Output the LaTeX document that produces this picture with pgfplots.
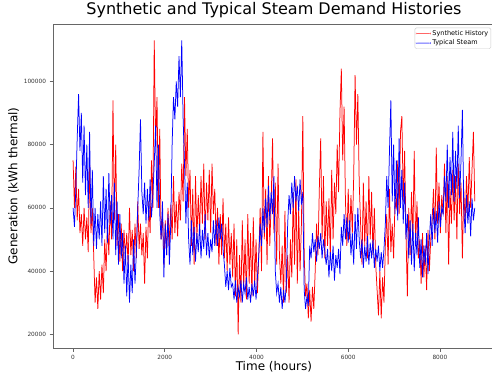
\documentclass[border=0pt]{standalone}
\usepackage{pgfplots}
\pgfplotsset{compat=1.18}
\usepackage{pgfplotstable}
\usepackage{fontspec}
\setmainfont{DejaVu Sans}

% hourly demand sampled every 30 hours, values in thousands of kWh
\pgfplotstableread[row sep=\\]{
v\\
75\\ 60\\ 73\\ 56\\ 66\\ 52\\ 58\\ 48\\ 60\\ 50\\
57\\ 46\\ 74\\ 52\\ 60\\ 45\\ 30\\ 38\\ 28\\ 40\\
31\\ 42\\ 33\\ 50\\ 40\\ 55\\ 45\\ 62\\ 50\\ 94\\
56\\ 80\\ 48\\ 58\\ 43\\ 55\\ 40\\ 53\\ 44\\ 52\\
42\\ 60\\ 45\\ 53\\ 40\\ 55\\ 44\\ 62\\ 47\\ 55\\
45\\ 52\\ 36\\ 54\\ 44\\ 62\\ 52\\ 75\\ 60\\ 113\\
80\\ 95\\ 60\\ 85\\ 50\\ 58\\ 42\\ 56\\ 45\\ 60\\
48\\ 61\\ 50\\ 70\\ 52\\ 62\\ 51\\ 65\\ 56\\ 74\\
62\\ 95\\ 70\\ 85\\ 60\\ 72\\ 48\\ 66\\ 42\\ 70\\
50\\ 64\\ 52\\ 70\\ 55\\ 74\\ 50\\ 68\\ 56\\ 72\\
52\\ 74\\ 58\\ 66\\ 48\\ 60\\ 42\\ 58\\ 45\\ 63\\
44\\ 55\\ 40\\ 57\\ 42\\ 52\\ 38\\ 55\\ 32\\ 50\\
20\\ 45\\ 30\\ 56\\ 34\\ 50\\ 31\\ 58\\ 36\\ 52\\
32\\ 57\\ 35\\ 50\\ 33\\ 45\\ 60\\ 40\\ 84\\ 50\\
66\\ 42\\ 70\\ 48\\ 62\\ 82\\ 52\\ 68\\ 42\\ 74\\
45\\ 36\\ 48\\ 30\\ 59\\ 33\\ 45\\ 30\\ 50\\ 38\\
65\\ 42\\ 69\\ 36\\ 60\\ 40\\ 55\\ 89\\ 45\\ 32\\
36\\ 25\\ 34\\ 24\\ 35\\ 28\\ 40\\ 55\\ 45\\ 66\\
82\\ 50\\ 70\\ 44\\ 62\\ 48\\ 63\\ 44\\ 72\\ 50\\
68\\ 58\\ 80\\ 65\\ 90\\ 104\\ 75\\ 92\\ 62\\ 48\\
66\\ 50\\ 64\\ 52\\ 70\\ 102\\ 80\\ 96\\ 68\\ 55\\
42\\ 68\\ 48\\ 62\\ 44\\ 70\\ 50\\ 65\\ 45\\ 60\\
42\\ 34\\ 26\\ 40\\ 25\\ 38\\ 30\\ 48\\ 58\\ 42\\
66\\ 46\\ 55\\ 44\\ 62\\ 60\\ 75\\ 58\\ 84\\ 89\\
62\\ 78\\ 52\\ 32\\ 60\\ 45\\ 65\\ 50\\ 78\\ 48\\
62\\ 44\\ 50\\ 36\\ 52\\ 38\\ 48\\ 34\\ 53\\ 40\\
50\\ 56\\ 66\\ 50\\ 79\\ 55\\ 68\\ 52\\ 64\\ 58\\
74\\ 52\\ 70\\ 42\\ 66\\ 55\\ 72\\ 56\\ 70\\ 50\\
74\\ 58\\ 68\\ 44\\ 66\\ 55\\ 70\\ 58\\ 76\\ 60\\
72\\ 84\\ 62\\
}\synth

\pgfplotstableread[row sep=\\]{
v\\
60\\ 54\\ 66\\ 82\\ 96\\ 78\\ 90\\ 68\\ 86\\ 64\\
80\\ 60\\ 84\\ 55\\ 72\\ 48\\ 60\\ 47\\ 58\\ 50\\
62\\ 48\\ 70\\ 52\\ 66\\ 49\\ 71\\ 55\\ 64\\ 50\\
68\\ 45\\ 62\\ 42\\ 58\\ 44\\ 52\\ 36\\ 48\\ 32\\
45\\ 30\\ 42\\ 33\\ 50\\ 36\\ 46\\ 60\\ 72\\ 88\\
65\\ 58\\ 68\\ 55\\ 66\\ 56\\ 69\\ 57\\ 64\\ 74\\
86\\ 60\\ 80\\ 58\\ 50\\ 62\\ 38\\ 55\\ 45\\ 58\\
42\\ 55\\ 80\\ 95\\ 88\\ 100\\ 92\\ 108\\ 95\\ 113\\
88\\ 74\\ 55\\ 68\\ 50\\ 42\\ 56\\ 45\\ 54\\ 43\\
52\\ 46\\ 55\\ 44\\ 53\\ 47\\ 58\\ 45\\ 52\\ 44\\
50\\ 46\\ 56\\ 48\\ 56\\ 48\\ 57\\ 50\\ 55\\ 47\\
42\\ 35\\ 40\\ 34\\ 41\\ 35\\ 36\\ 31\\ 37\\ 30\\
35\\ 32\\ 37\\ 30\\ 36\\ 33\\ 38\\ 31\\ 35\\ 30\\
36\\ 32\\ 37\\ 31\\ 38\\ 45\\ 55\\ 48\\ 60\\ 52\\
63\\ 54\\ 67\\ 56\\ 65\\ 58\\ 70\\ 40\\ 33\\ 36\\
30\\ 35\\ 28\\ 34\\ 30\\ 36\\ 55\\ 64\\ 58\\ 68\\
60\\ 70\\ 62\\ 67\\ 59\\ 69\\ 61\\ 65\\ 34\\ 28\\
32\\ 29\\ 48\\ 44\\ 52\\ 46\\ 50\\ 43\\ 51\\ 47\\
52\\ 44\\ 50\\ 46\\ 42\\ 47\\ 38\\ 46\\ 40\\ 48\\
37\\ 45\\ 41\\ 47\\ 39\\ 54\\ 48\\ 58\\ 50\\ 57\\
49\\ 56\\ 45\\ 52\\ 42\\ 58\\ 47\\ 60\\ 50\\ 44\\
50\\ 41\\ 48\\ 43\\ 51\\ 42\\ 49\\ 44\\ 50\\ 41\\
47\\ 43\\ 48\\ 40\\ 46\\ 41\\ 47\\ 55\\ 70\\ 60\\
78\\ 94\\ 62\\ 80\\ 58\\ 75\\ 56\\ 82\\ 60\\ 72\\
55\\ 68\\ 50\\ 58\\ 44\\ 56\\ 42\\ 55\\ 40\\ 52\\
45\\ 57\\ 41\\ 50\\ 38\\ 48\\ 42\\ 52\\ 39\\ 50\\
58\\ 48\\ 60\\ 52\\ 59\\ 49\\ 62\\ 54\\ 60\\ 58\\
70\\ 62\\ 80\\ 60\\ 76\\ 64\\ 84\\ 62\\ 78\\ 66\\
86\\ 63\\ 75\\ 91\\ 60\\ 52\\ 64\\ 55\\ 62\\ 51\\
63\\ 56\\ 60\\
}\typical

% hour of each sample (every 30 hours) and value in kWh
\pgfplotstablecreatecol[expr={\pgfplotstablerow*30}]{h}\synth
\pgfplotstablecreatecol[expr={\thisrow{v}*1000}]{kwh}\synth
\pgfplotstablecreatecol[expr={\pgfplotstablerow*30}]{h}\typical
\pgfplotstablecreatecol[expr={\thisrow{v}*1000}]{kwh}\typical

\begin{document}
\begin{tikzpicture}
\begin{axis}[
  at={(53pt,25pt)}, anchor=south west,
  scale only axis, width=441.8pt, height=324pt,
  xmin=-438, xmax=9197, ymin=15650, ymax=118150,
  scaled ticks=false,
  xtick={0,2000,4000,6000,8000},
  xticklabels={0,2000,4000,6000,8000},
  ytick={20000,40000,60000,80000,100000},
  yticklabels={20000,40000,60000,80000,100000},
  tick label style={font=\fontsize{5.8}{7}\selectfont, text=black!80},
  axis line style={black!60, line width=0.8pt},
  tick style={black!60, line width=0.6pt},
  tick align=outside, major tick length=3.5pt,
  xtick pos=bottom, ytick pos=left,
  title={Synthetic and Typical Steam Demand Histories},
  title style={font=\fontsize{16}{19}\selectfont, at={(axis description cs:0.5,1.0123)}, anchor=base},
  xlabel={Time (hours)},
  xlabel style={font=\fontsize{12}{14}\selectfont, at={(axis description cs:0.5,-0.0704)}, anchor=base},
  ylabel={Generation (kWh thermal)},
  ylabel style={font=\fontsize{12}{14}\selectfont, at={(axis description cs:-0.0804,0.5)}, anchor=base},
  legend style={at={(1,1)}, anchor=north east, xshift=-3.7pt, yshift=-3.7pt,
    draw=black!20, rounded corners=1.5pt, font=\fontsize{6.5}{7.5}\selectfont,
    inner xsep=1pt, inner ysep=0.8pt, row sep=0pt, nodes={inner sep=1.6pt}},
  legend cell align=left,
  legend image code/.code={\fill[#1, draw=none, fill opacity=0.6] (0pt,-0.45pt) rectangle (15pt,0.45pt);},
]
\addplot[color=red, draw=red, line width=0.75pt, no markers, forget plot] table[x=h, y=kwh] \synth;
\addplot[color=blue, draw=blue, line width=0.75pt, no markers, forget plot] table[x=h, y=kwh] \typical;
\addlegendimage{fill=red}
\addlegendentry{Synthetic History}
\addlegendimage{fill=blue}
\addlegendentry{Typical Steam}
\end{axis}
\pgfresetboundingbox
\path[use as bounding box] (0,0) rectangle (492pt,373pt);
\end{tikzpicture}
\end{document}
